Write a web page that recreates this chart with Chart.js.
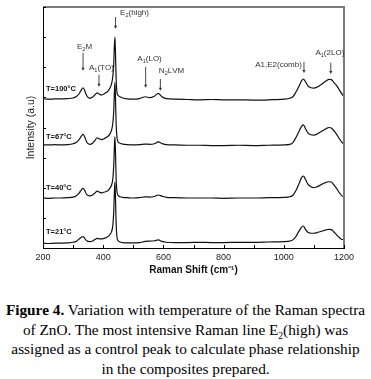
<!DOCTYPE html>
<html>
<head>
<meta charset="utf-8">
<script src="https://cdn.jsdelivr.net/npm/chart.js@4"></script>
<style>
  body { margin: 0; background: #fff; width: 371px; height: 379px; overflow: hidden; }
  #wrap { width: 371px; height: 284px; }
  .caption {
    margin: 16px 0 0 0;
    font-family: "Liberation Serif", "Times New Roman", serif;
    font-size: 15.3px;
    line-height: 19.5px;
    text-align: center;
    color: #000;
    white-space: nowrap;
  }
  .caption sub { font-size: 9.5px; line-height: 0; }
</style>
</head>
<body>
<div id="wrap"><canvas id="myChart" width="371" height="284"></canvas></div>
<div class="caption"><b>Figure 4.</b> Variation with temperature of the Raman spectra<br>of ZnO. The most intensive Raman line E<sub>2</sub>(high) was<br>assigned as a control peak to calculate phase relationship<br>in the composites prepared.</div>
<script>
// Raman shift (cm-1)
var shift = [200, 220, 240, 260, 280, 300, 310, 320, 328, 333, 338, 345, 355, 365, 372, 380, 388, 395, 405, 415,
  422, 428, 432, 435, 437, 439, 441, 443, 446, 450, 456, 465, 480, 500, 520, 540, 555, 570, 583, 595,
  610, 640, 680, 720, 760, 800, 850, 900, 950, 1000, 1020, 1030, 1040, 1050, 1058, 1065, 1072, 1080, 1090, 1100,
  1110, 1120, 1130, 1140, 1150, 1158, 1166, 1175, 1185, 1192, 1200];

// stacked intensities (a.u.), one per temperature
var t100 = [4.95, 4.94, 4.95, 4.95, 4.96, 4.98, 5.02, 5.12, 5.26, 5.32, 5.24, 5.06, 4.97, 5.01, 5.08, 5.15, 5.10, 5.08, 5.13, 5.20,
  5.30, 5.46, 5.70, 6.10, 6.70, 7.00, 6.40, 5.60, 5.15, 5.06, 5.02, 4.98, 4.95, 4.94, 4.96, 5.02, 4.99, 5.04, 5.13, 5.02,
  4.96, 4.94, 4.93, 4.92, 4.93, 4.92, 4.92, 4.91, 4.92, 4.94, 4.97, 5.02, 5.17, 5.36, 5.53, 5.61, 5.52, 5.38, 5.32, 5.31,
  5.34, 5.40, 5.47, 5.54, 5.60, 5.59, 5.50, 5.40, 5.24, 5.13, 5.03];
var t67 = [3.42, 3.42, 3.43, 3.42, 3.43, 3.46, 3.50, 3.60, 3.72, 3.77, 3.70, 3.52, 3.44, 3.48, 3.56, 3.66, 3.62, 3.60, 3.64, 3.70,
  3.78, 3.92, 4.15, 4.55, 5.10, 5.50, 4.90, 4.10, 3.65, 3.52, 3.48, 3.45, 3.43, 3.42, 3.43, 3.45, 3.44, 3.46, 3.52, 3.47,
  3.43, 3.42, 3.41, 3.41, 3.40, 3.40, 3.41, 3.40, 3.41, 3.42, 3.44, 3.50, 3.66, 3.86, 4.02, 4.09, 3.96, 3.82, 3.76, 3.75,
  3.78, 3.84, 3.90, 3.96, 4.00, 3.98, 3.90, 3.78, 3.62, 3.52, 3.45];
var t40 = [1.66, 1.65, 1.66, 1.66, 1.67, 1.69, 1.73, 1.82, 1.94, 1.98, 1.92, 1.78, 1.73, 1.76, 1.82, 1.89, 1.85, 1.83, 1.86, 1.90,
  1.98, 2.10, 2.30, 2.75, 3.30, 3.70, 3.10, 2.30, 1.85, 1.74, 1.70, 1.68, 1.67, 1.66, 1.67, 1.70, 1.69, 1.71, 1.76, 1.72,
  1.68, 1.67, 1.66, 1.66, 1.66, 1.65, 1.66, 1.66, 1.67, 1.68, 1.70, 1.75, 1.90, 2.12, 2.32, 2.39, 2.28, 2.12, 2.03, 2.00,
  2.03, 2.08, 2.13, 2.18, 2.20, 2.19, 2.10, 1.98, 1.83, 1.74, 1.70];
var t21 = [0.16, 0.15, 0.16, 0.16, 0.17, 0.19, 0.22, 0.30, 0.36, 0.38, 0.33, 0.24, 0.21, 0.23, 0.28, 0.32, 0.30, 0.30, 0.33, 0.37,
  0.44, 0.55, 0.75, 1.20, 1.80, 2.20, 1.60, 0.80, 0.35, 0.24, 0.20, 0.18, 0.17, 0.17, 0.18, 0.22, 0.23, 0.24, 0.27, 0.22,
  0.19, 0.18, 0.18, 0.19, 0.18, 0.18, 0.19, 0.19, 0.20, 0.21, 0.23, 0.27, 0.38, 0.55, 0.68, 0.73, 0.62, 0.52, 0.49, 0.49,
  0.51, 0.54, 0.57, 0.60, 0.62, 0.61, 0.54, 0.44, 0.34, 0.29, 0.27];

var tempLabels = ['T=100°C', 'T=67°C', 'T=40°C', 'T=21°C'];
var xTickLabels = [200, 400, 600, 800, 1000, 1200];

// peak marks: "_" puts the next character in subscript
var peakNames = ['E_2M', 'A_1(TO)', 'E_2(high)', 'A_1(LO)', 'N_2LVM', 'A1,E2(comb)', 'A_1(2LO)'];
var peakShift = [333, 386, 441, 541, 590, 1067, 1156];

// where the marks sit, in axis units
var arrows = [[6.48, 5.88], [5.75, 5.35], [7.67, 7.28], [6.01, 5.32], [5.61, 5.22], [6.18, 5.81], [6.15, 5.78]];
var peakText = [[338, 6.68, 'center'], [394, 5.98, 'center'], [456, 7.81, 'left'], [554, 6.28, 'center'],
  [627, 5.88, 'center'], [1060, 6.08, 'right'], [1153, 6.48, 'center']];
var tempPos = [[210, 5.28], [210, 3.69], [210, 1.99], [210, 0.53]];

function toPoints(ys) {
  return shift.map(function (s, i) { return { x: s, y: ys[i] }; });
}

function drawRich(ctx, str, x, y, align, size) {
  var parts = [];
  for (var i = 0; i < str.length; i++) {
    if (str[i] === '_') { parts.push([str[i + 1], true]); i++; }
    else parts.push([str[i], false]);
  }
  var w = 0;
  parts.forEach(function (p) {
    ctx.font = (p[1] ? size * 0.7 : size) + 'px Arial, "Liberation Sans"';
    w += ctx.measureText(p[0]).width;
  });
  var cx = align === 'center' ? x - w / 2 : align === 'right' ? x - w : x;
  ctx.textAlign = 'left';
  ctx.textBaseline = 'middle';
  parts.forEach(function (p) {
    ctx.font = (p[1] ? size * 0.7 : size) + 'px Arial, "Liberation Sans"';
    ctx.fillText(p[0], cx, p[1] ? y + size * 0.3 : y);
    cx += ctx.measureText(p[0]).width;
  });
}

var decor = {
  id: 'decor',
  afterDraw: function (chart) {
    var ctx = chart.ctx, a = chart.chartArea, x = chart.scales.x, y = chart.scales.y;
    ctx.save();
    // grey frame on top and right
    ctx.strokeStyle = '#7a7a7a';
    ctx.lineWidth = 2;
    ctx.beginPath();
    ctx.moveTo(a.left, a.top);
    ctx.lineTo(a.right, a.top);
    ctx.lineTo(a.right, a.bottom);
    ctx.stroke();

    // inward tick marks
    ctx.strokeStyle = '#000';
    ctx.lineWidth = 1;
    ctx.beginPath();
    x.ticks.forEach(function (t) {
      var px = Math.round(x.getPixelForValue(t.value)) + 0.5;
      ctx.moveTo(px, a.bottom);
      ctx.lineTo(px, a.bottom - 3);
    });
    y.ticks.forEach(function (t) {
      var py = Math.round(y.getPixelForValue(t.value)) + 0.5;
      ctx.moveTo(a.left, py);
      ctx.lineTo(a.left + 3, py);
    });
    ctx.stroke();

    // temperature labels
    ctx.fillStyle = '#111';
    ctx.font = 'bold 7.5px Arial, "Liberation Sans"';
    ctx.textAlign = 'left';
    ctx.textBaseline = 'middle';
    tempLabels.forEach(function (t, i) {
      ctx.fillText(t, x.getPixelForValue(tempPos[i][0]), y.getPixelForValue(tempPos[i][1]));
    });

    // peak assignments with arrows
    ctx.fillStyle = '#333';
    ctx.strokeStyle = '#333';
    ctx.lineWidth = 0.9;
    peakNames.forEach(function (n, i) {
      var px = x.getPixelForValue(peakShift[i]);
      var y1 = y.getPixelForValue(arrows[i][0]);
      var y2 = y.getPixelForValue(arrows[i][1]);
      ctx.beginPath();
      ctx.moveTo(px, y1);
      ctx.lineTo(px, y2 - 2);
      ctx.stroke();
      ctx.beginPath();
      ctx.moveTo(px - 1.6, y2 - 3);
      ctx.lineTo(px + 1.6, y2 - 3);
      ctx.lineTo(px, y2);
      ctx.closePath();
      ctx.fill();
      drawRich(ctx, n, x.getPixelForValue(peakText[i][0]), y.getPixelForValue(peakText[i][1]), peakText[i][2], 8);
    });
    ctx.restore();
  }
};

var series = [t100, t67, t40, t21];

var ctx = document.getElementById('myChart').getContext('2d');
var myChart = new Chart(ctx, {
  type: 'line',
  data: {
    datasets: series.map(function (s, i) {
      return {
        label: tempLabels[i],
        data: toPoints(s),
        borderColor: '#111',
        borderWidth: 1.2,
        pointRadius: 0,
        cubicInterpolationMode: 'monotone',
        fill: false
      };
    })
  },
  options: {
    responsive: false,
    animation: false,
    layout: { padding: { top: 7, right: 27, left: 0, bottom: 0 } },
    plugins: {
      legend: { display: false },
      tooltip: { enabled: false }
    },
    scales: {
      x: {
        type: 'linear',
        min: 200,
        max: 1200,
        afterFit: function (s) { s.height = 36; },
        grid: { display: false, drawTicks: false },
        border: { display: true, color: '#000', width: 1 },
        ticks: {
          stepSize: 100,
          autoSkip: false,
          maxRotation: 0,
          padding: 4,
          color: '#222',
          font: { family: 'Arial, "Liberation Sans"', size: 9 },
          callback: function (v) { return xTickLabels.indexOf(v) >= 0 ? v : ''; }
        },
        title: {
          display: true,
          text: 'Raman Shift (cm⁻¹)',
          color: '#111',
          font: { family: 'Arial, "Liberation Sans"', size: 10, weight: 'bold' },
          padding: { top: 0, bottom: 8 }
        }
      },
      y: {
        min: 0,
        max: 8,
        afterFit: function (s) { s.width = 43; },
        grid: { display: false, drawTicks: false },
        border: { display: true, color: '#000', width: 1 },
        ticks: { stepSize: 1, display: false },
        title: {
          display: true,
          text: 'Intensity (a.u)',
          color: '#222',
          font: { family: 'Arial, "Liberation Sans"', size: 10.5 },
          padding: { top: 25, bottom: 0 }
        }
      }
    }
  },
  plugins: [decor]
});
</script>
</body>
</html>
